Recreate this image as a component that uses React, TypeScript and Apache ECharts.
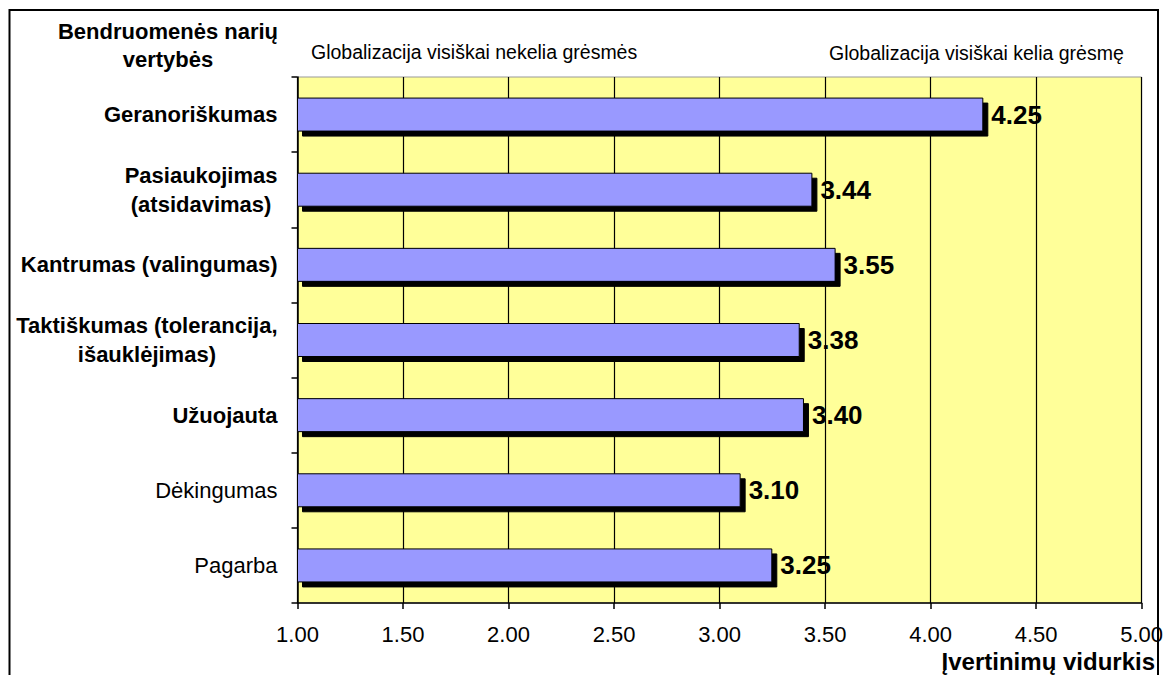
import React, { useEffect, useRef } from 'react';
import * as echarts from 'echarts';

const categories = [
  'Geranoriškumas',
  'Pasiaukojimas\n(atsidavimas)',
  'Kantrumas (valingumas)',
  'Taktiškumas (tolerancija,\nišauklėjimas)',
  'Užuojauta',
  'Dėkingumas',
  'Pagarba',
];
const boldCategory = [true, true, true, true, true, false, false];
const averages = [4.25, 3.44, 3.55, 3.38, 3.4, 3.1, 3.25];
const axisMin = 1;
const axisMax = 5;
const axisStep = 0.5;

const headerLeft = 'Bendruomenės narių\nvertybės';
const noteLow = 'Globalizacija visiškai nekelia grėsmės';
const noteHigh = 'Globalizacija visiškai kelia grėsmę';
const axisTitle = 'Įvertinimų vidurkis';

const FONT = '"Liberation Sans", Arial, sans-serif';

export default function App() {
  const ref = useRef<HTMLDivElement>(null);
  useEffect(() => {
    if (!ref.current) return;
    const chart = echarts.init(ref.current, null, { renderer: 'svg' });
    chart.setOption({
      animation: false,
      backgroundColor: '#ffffff',
      textStyle: { fontFamily: FONT },
      grid: {
        left: 297.5,
        right: 23,
        top: 77,
        bottom: 72,
        show: true,
        backgroundColor: '#FFFF99',
        borderColor: '#999999',
        borderWidth: 1,
      },
      xAxis: {
        type: 'value',
        min: axisMin,
        max: axisMax,
        interval: axisStep,
        axisLine: { show: true, lineStyle: { color: '#000', width: 1.5 } },
        axisTick: { show: true, inside: false, length: 6, lineStyle: { color: '#000', width: 1.5 } },
        splitLine: { show: true, lineStyle: { color: '#000', width: 1.2 } },
        axisLabel: {
          color: '#000',
          fontSize: 22,
          fontFamily: FONT,
          margin: 20,
          formatter: (v: number) => v.toFixed(2),
        },
      },
      yAxis: {
        type: 'category',
        inverse: true,
        data: categories,
        axisLine: { show: true, lineStyle: { color: '#000', width: 1.5 } },
        axisTick: { show: true, inside: false, length: 6, lineStyle: { color: '#000', width: 1.5 } },
        axisLabel: {
          color: '#000',
          fontSize: 22,
          fontFamily: FONT,
          margin: 20,
          align: 'right',
          lineHeight: 29,
          formatter: (value: string, index: number) =>
            value
              .split('\n')
              .map((l) => `{${boldCategory[index] ? 'b' : 'n'}|${l}}`)
              .join('\n'),
          rich: {
            b: { fontWeight: 'bold', fontSize: 22, align: 'center', lineHeight: 29, color: '#000', fontFamily: FONT },
            n: { fontWeight: 'normal', fontSize: 22, align: 'center', lineHeight: 29, color: '#000', fontFamily: FONT },
          },
        },
      },
      series: [
        {
          type: 'bar',
          data: averages,
          barWidth: 34,
          itemStyle: {
            color: '#9999FF',
            borderColor: '#000',
            borderWidth: 1,
            shadowColor: '#000',
            shadowBlur: 0,
            shadowOffsetX: 5,
            shadowOffsetY: 5,
          },
          label: {
            show: true,
            position: 'right',
            distance: 8,
            color: '#000',
            fontSize: 26,
            fontWeight: 'bold',
            fontFamily: FONT,
            formatter: (p: any) => Number(p.value).toFixed(2),
          },
        },
      ],
      graphic: [
        {
          type: 'rect',
          shape: { x: 9.5, y: 10, width: 1148.5, height: 720 },
          style: { fill: 'none', stroke: '#000', lineWidth: 2 },
          silent: true,
        },
        {
          type: 'text',
          x: 168,
          y: 45,
          style: {
            text: headerLeft,
            fill: '#000',
            font: `bold 22px ${FONT}`,
            align: 'center',
            verticalAlign: 'middle',
            lineHeight: 28,
          },
        },
        {
          type: 'text',
          x: 311,
          y: 52,
          style: {
            text: noteLow,
            fill: '#000',
            font: `19.5px ${FONT}`,
            align: 'left',
            verticalAlign: 'middle',
          },
        },
        {
          type: 'text',
          x: 829,
          y: 53,
          style: {
            text: noteHigh,
            fill: '#000',
            font: `19.5px ${FONT}`,
            align: 'left',
            verticalAlign: 'middle',
          },
        },
        {
          type: 'text',
          x: 1155,
          y: 661,
          style: {
            text: axisTitle,
            fill: '#000',
            font: `bold 24px ${FONT}`,
            align: 'right',
            verticalAlign: 'middle',
          },
        },
      ],
    });
    return () => chart.dispose();
  }, []);
  return (
    <div
      ref={ref}
      style={{ position: 'fixed', left: 0, top: 0, width: 1166, height: 675 }}
    />
  );
}
